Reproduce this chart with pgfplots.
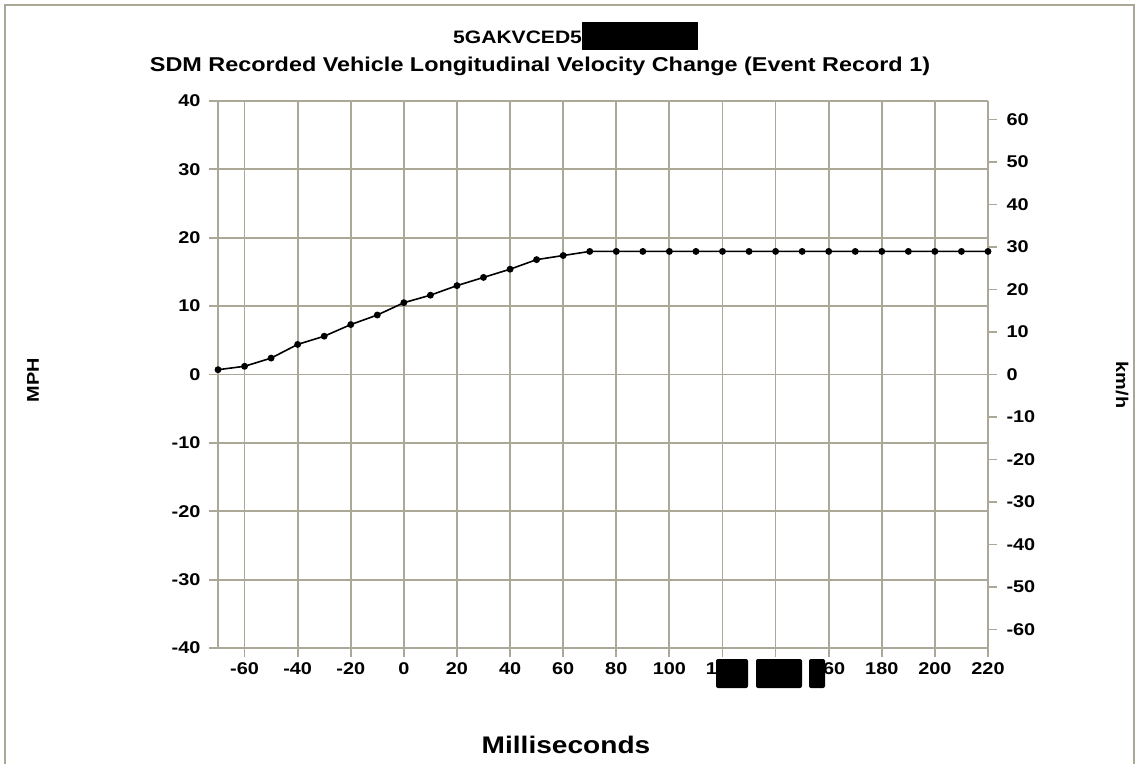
\documentclass[border=0pt]{standalone}
\usepackage{fontspec}
\setmainfont{Liberation Sans}[FakeStretch=1.17]
\usepackage{pgfplots}
\pgfplotsset{compat=1.18}
\definecolor{gridc}{RGB}{172,168,152}
\begin{document}
\begin{tikzpicture}[x=1pt,y=1pt]
\useasboundingbox (0,0) rectangle (1138,764);
% outer frame
\draw[gridc, line width=1.5pt] (5,0) -- (5,759) -- (1134,759) -- (1134,0);
\begin{axis}[
  at={(218pt,116pt)}, anchor=south west,
  scale only axis, width=770pt, height=547pt,
  xmin=-70, xmax=220, ymin=-64.3738, ymax=64.3738,
  axis x line=none, axis y line*=right,
  ytick={-60,-50,...,60}, ytick pos=right,
  axis line style={gridc, line width=1.8pt},
  tick style={gridc, line width=1.8pt},
  tick align=outside, major tick length=9pt,
  /pgf/number format/assume math mode=true,
  tick label style={font=\fontsize{17}{20}\selectfont\bfseries, text=black},
  yticklabel style={xshift=6pt},
]
\end{axis}
\begin{axis}[
  at={(218pt,116pt)}, anchor=south west,
  scale only axis, width=770pt, height=547pt,
  xmin=-70, xmax=220, ymin=-40, ymax=40,
  axis x line*=bottom, axis y line*=left,
  xtick={-60,-40,...,220}, ytick={-40,-30,...,40},
  grid=major,
  grid style={gridc, line width=1.8pt},
  axis line style={gridc, line width=1.8pt},
  tick style={gridc, line width=1.8pt},
  tick align=outside, major tick length=9pt,
  /pgf/number format/assume math mode=true,
  tick label style={font=\fontsize{17}{20}\selectfont\bfseries, text=black},
  yticklabel style={xshift=-5pt},
  xticklabel style={yshift=-2pt},
  clip=false,
]
\addplot[black, line width=1.6pt, mark=*, mark size=2.6pt] coordinates {
(-70,0.7) (-60,1.2) (-50,2.4) (-40,4.4) (-30,5.6) (-20,7.3) (-10,8.7)
(0,10.5) (10,11.6) (20,13.0) (30,14.2) (40,15.4) (50,16.8) (60,17.4)
(70,18.0) (80,18.0) (90,18.0) (100,18.0) (110,18.0) (120,18.0) (130,18.0)
(140,18.0) (150,18.0) (160,18.0) (170,18.0) (180,18.0) (190,18.0)
(200,18.0) (210,18.0) (220,18.0)
};
\end{axis}
% titles
\node[anchor=base west, inner sep=0pt, font=\fontsize{18}{21}\selectfont\bfseries] at (453,720) {5GAKVCED5\rule[-6pt]{116pt}{28pt}};
\node[anchor=base, inner sep=0pt, font=\fontsize{20}{24}\selectfont\bfseries] at (540,692) {SDM Recorded Vehicle Longitudinal Velocity Change (Event Record 1)};
\node[anchor=base, inner sep=0pt, font=\fontsize{24}{28}\selectfont\bfseries] at (566,11) {Milliseconds};
\node[rotate=90, inner sep=0pt, font=\fontsize{17}{20}\selectfont\bfseries] at (33,384) {MPH};
\node[rotate=-90, inner sep=0pt, font=\fontsize{17}{20}\selectfont\bfseries] at (1122,379) {km/h};
% redaction boxes
\fill[black, rounded corners=2pt] (716,76) rectangle (748,105);
\fill[black, rounded corners=2pt] (756,76) rectangle (802,105);
\fill[black, rounded corners=2pt] (809,76) rectangle (825,105);
\end{tikzpicture}
\end{document}
